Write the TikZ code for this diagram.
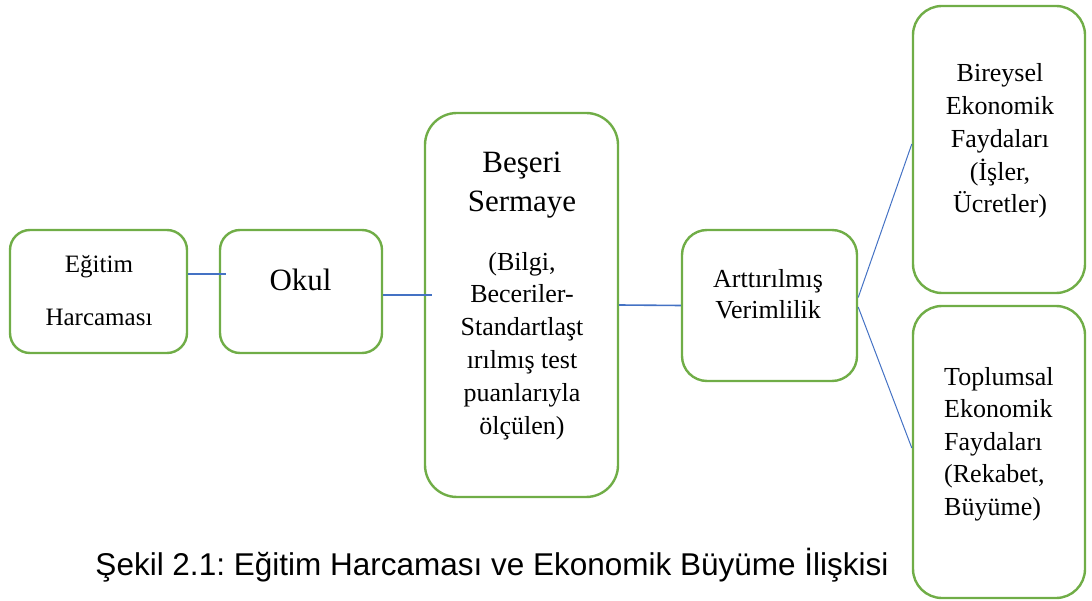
\documentclass[tikz,border=0pt]{standalone}
\usepackage{fontspec}
\setmainfont{Liberation Serif}
\newfontfamily\capfont{Liberation Sans}
\usepackage{tikz}
\usetikzlibrary{calc}
\definecolor{kutuyesil}{HTML}{70AD47}
\definecolor{baglmavi}{HTML}{4472C4}
\frenchspacing
\tikzset{
	kutu/.style={draw=kutuyesil, line width=2.4pt, inner sep=0pt},
	yazi/.style={inner sep=0pt, align=center, font=\fontsize{26}{32.8}\selectfont},
	bag/.style={draw=baglmavi, line width=1.6pt},
	incebag/.style={draw=baglmavi, line width=1pt}
}

\begin{document}
\begin{tikzpicture}[x=1pt, y=-1pt]
			%%%%% START %%%%%
			\useasboundingbox (0, 0) rectangle (1092, 601);
			
			\node[kutu, minimum width=177pt, minimum height=123pt, rounded corners=20pt] (harcama) at (98.5, 291.5) {};
			\node[kutu, minimum width=162pt, minimum height=123pt, rounded corners=20pt] (okul) at (301, 291.5) {};
			\node[kutu, minimum width=193pt, minimum height=384pt, rounded corners=32pt] (beseri) at (521.5, 305) {};
			\node[kutu, minimum width=175pt, minimum height=151pt, rounded corners=25pt] (verim) at (769.5, 305.5) {};
			\node[kutu, minimum width=172pt, minimum height=287pt, rounded corners=29pt] (bireysel) at (999, 149.5) {};
			\node[kutu, minimum width=172pt, minimum height=292pt, rounded corners=29pt] (toplum) at (999, 452) {};
			
			% multi-line nodes: base = last line
			\node[yazi, anchor=base, font=\fontsize{25}{53}\selectfont] (harcamayazi) at (99, 326) {Eğitim\\Harcaması};
			\node[yazi, anchor=base, font=\fontsize{31}{38}\selectfont] (okulyazi) at (300.5, 291) {Okul};
			\node[yazi, anchor=base, font=\fontsize{31}{39}\selectfont] (beseribaslik) at (522, 212) {Beşeri\\Sermaye};
			\node[yazi, anchor=base] (beseriyazi) at (522, 434) {(Bilgi,\\Beceriler-\\Standartlaşt\\ırılmış test\\puanlarıyla\\ölçülen)};
			\node[yazi, anchor=base, font=\fontsize{26}{31.5}\selectfont] (verimyazi) at (768, 319) {Arttırılmış\\Verimlilik};
			\node[yazi, anchor=base] (bireyselyazi) at (1000, 213) {Bireysel\\Ekonomik\\Faydaları\\(İşler,\\Ücretler)};
			\node[yazi, anchor=base west, align=left, font=\fontsize{26}{32.5}\selectfont] (toplumyazi) at (944, 515) {Toplumsal\\Ekonomik\\Faydaları\\(Rekabet,\\Büyüme)};
			
			\draw[bag] ([yshift=17.5pt]harcama.east) -- ([yshift=17.5pt, xshift=7pt]okul.west);
			\draw[bag] ([yshift=-3.5pt]okul.east) -- ([yshift=10pt, xshift=8pt]beseri.west);
			\draw[bag] (beseri.east) -- (verim.west);
			\draw[incebag] ([yshift=8pt]verim.east) -- ([yshift=5.5pt]bireysel.west);
			\draw[incebag] ([yshift=-1.5pt]verim.east) -- ([yshift=4pt]toplum.west);
			
			\node[anchor=base, inner sep=0pt, font=\capfont\fontsize{31.5}{38}\selectfont] (sekil) at (492, 575) {Şekil 2.1: Eğitim Harcaması ve Ekonomik Büyüme İlişkisi};
			%%%%% END %%%%%
		\end{tikzpicture}
\end{document}
